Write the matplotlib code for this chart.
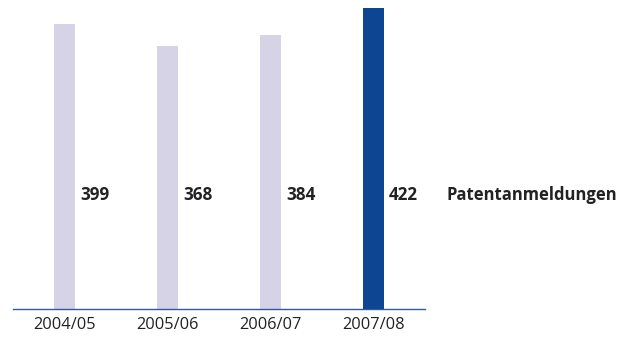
import matplotlib
matplotlib.use("Agg")
import matplotlib.pyplot as plt

years = ["2004/05", "2005/06", "2006/07", "2007/08"]
patents = [399, 368, 384, 422]
series_label = "Patentanmeldungen"

light = "#d6d3e7"
dark = "#0d4592"
colors = [light, light, light, dark]

plt.rcParams["font.family"] = ["Open Sans", "DejaVu Sans"]

fig = plt.figure(figsize=(6.3, 3.38), dpi=100)
ax = fig.add_axes([13 / 630, (338 - 308.5) / 338, 412 / 630, 300.5 / 338])

x = list(range(len(years)))
width = 0.204
ax.bar(x, patents, width=width, color=colors, zorder=2)

ax.set_xlim(-0.5, 3.5)
ax.set_ylim(0, max(patents))

for side in ("top", "right", "left"):
    ax.spines[side].set_visible(False)
ax.spines["bottom"].set_color("#2f5a9c")
ax.spines["bottom"].set_linewidth(1.0)
ax.set_yticks([])
ax.set_xticks(x)
ax.set_xticklabels(years, fontsize=11.8, color="#222222")
ax.tick_params(axis="x", length=0, pad=6)

trans = ax.get_xaxis_transform()
for xi, v in zip(x, patents):
    ax.text(xi + width / 2 + 0.05, 0.378, f"{v}", transform=trans,
            ha="left", va="center", fontsize=12.3, fontweight="bold",
            color="#222222")
ax.text(3.704, 0.378, series_label, transform=trans, ha="left", va="center",
        fontsize=12, fontweight="bold", color="#222222", clip_on=False)

fig.savefig("out.png", dpi=100)
